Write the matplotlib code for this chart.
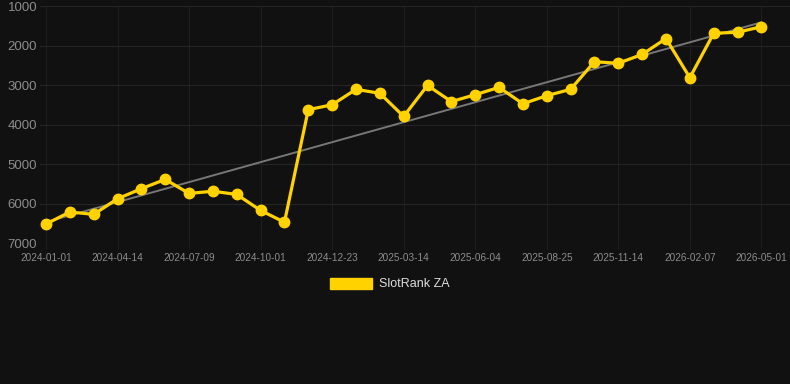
import numpy as np
import matplotlib.pyplot as plt

# Datos (rango de la tragamonedas, eje invertido).
fechas = [
    "2024-01-01", "2024-02-05", "2024-03-10", "2024-04-14", "2024-05-13",
    "2024-06-11", "2024-07-09", "2024-08-06", "2024-09-03", "2024-10-01",
    "2024-10-29", "2024-11-26", "2024-12-23", "2025-01-19", "2025-02-16",
    "2025-03-14", "2025-04-10", "2025-05-07", "2025-06-04", "2025-07-01",
    "2025-07-28", "2025-08-25", "2025-09-21", "2025-10-18", "2025-11-14",
    "2025-12-12", "2026-01-09", "2026-02-07", "2026-03-06", "2026-04-03",
    "2026-05-01",
]
rango = [
    6520, 6215, 6275, 5880, 5625, 5390, 5745, 5690, 5770, 6175,
    6475, 3625, 3500, 3110, 3210, 3795, 3010, 3420, 3245, 3060,
    3475, 3270, 3110, 2410, 2450, 2225, 1825, 2815, 1690, 1665,
    1525,
]
serie = "SlotRank ZA"
ticks_y = [1000, 2000, 3000, 4000, 5000, 6000, 7000]

fondo = "#111111"
amarillo = "#ffd200"

plt.rcParams["font.family"] = ["Liberation Sans", "DejaVu Sans"]

fig = plt.figure(figsize=(7.9, 3.84), dpi=100, facecolor=fondo)
ax = fig.add_axes([40 / 790, 1 - 243 / 384, 750 / 790, 237 / 384])
ax.set_facecolor(fondo)

x = np.arange(len(rango))

# Linea de tendencia (ajuste lineal).
pend, inter = np.polyfit(x, rango, 1)
ax.plot(x, pend * x + inter, color="#777777", linewidth=1.4, zorder=2)

ax.plot(
    x, rango,
    color=amarillo,
    linewidth=2.3,
    marker="o",
    markersize=7.5,
    label=serie,
    zorder=3,
)

ax.set_ylim(7000, 1000)
ax.set_xlim(-0.25, 31.2)
ax.set_yticks(ticks_y)
ax.set_yticklabels([str(v) for v in ticks_y])
ax.set_xticks(x[::3])
ax.set_xticklabels([fechas[i] for i in x[::3]])

ax.grid(axis="y", color="#242424", linewidth=0.8)
ax.grid(axis="x", color="#1e1e1e", linewidth=0.8)
for lado in ax.spines.values():
    lado.set_visible(False)

ax.tick_params(axis="y", length=0, pad=2, labelsize=9.5, labelcolor="#8c8c8c")
ax.tick_params(axis="x", length=4, color="#1e1e1e", pad=3,
               labelsize=7.2, labelcolor="#8c8c8c")

leyenda = fig.legend(
    handles=[plt.Rectangle((0, 0), 1, 1, color=amarillo)],
    labels=[serie],
    loc="center",
    bbox_to_anchor=(390 / 790, 1 - 284 / 384),
    frameon=False,
    handlelength=3.3,
    handleheight=1.0,
    handletextpad=0.6,
    fontsize=9,
)
for texto in leyenda.get_texts():
    texto.set_color("#dddddd")

fig.savefig("out.png", dpi=100, facecolor=fondo)
